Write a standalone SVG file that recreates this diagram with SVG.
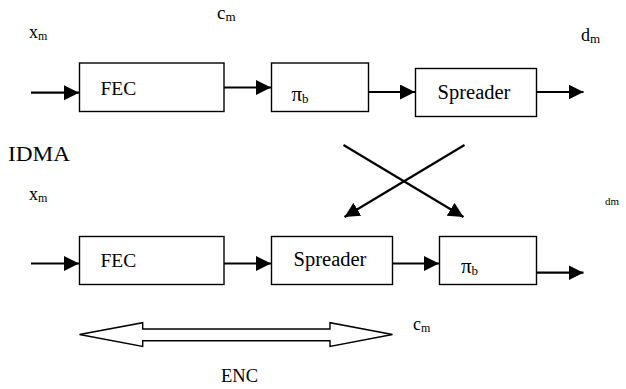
<svg xmlns="http://www.w3.org/2000/svg" width="626" height="389" viewBox="0 0 626 389">
<style>
.box{fill:#fff;stroke:#000;stroke-width:1.4}
.c{stroke:#000;stroke-width:2.2;fill:none;marker-end:url(#ah)}
text{font-family:'Liberation Serif','Times New Roman',serif;fill:#000}
</style>
<defs>
<marker id="ah" markerUnits="userSpaceOnUse" markerWidth="16" markerHeight="16" refX="15" refY="7.5" orient="auto">
<path d="M0,0 L15,7.5 L0,15 Z" fill="#000"/>
</marker>
</defs>
<rect width="626" height="389" fill="#fff"/>

<g id="labels">
<text x="8" y="161" font-size="21" textLength="62" lengthAdjust="spacingAndGlyphs">IDMA</text>
<text x="29" y="38" font-size="18">x<tspan font-size="12" dy="2">m</tspan></text>
<text x="217" y="19" font-size="19">c<tspan font-size="13" dy="2">m</tspan></text>
<text x="581" y="41" font-size="18">d<tspan font-size="13" dy="2">m</tspan></text>
<text x="29" y="200" font-size="18">x<tspan font-size="12" dy="2">m</tspan></text>
<text x="605" y="205" font-size="11">dm</text>
<text x="413" y="330" font-size="18">c<tspan font-size="12" dy="2">m</tspan></text>
<text x="221" y="381.5" font-size="18.5">ENC</text>
</g>

<g id="fec1">
<rect class="box" x="79.5" y="63" width="144.5" height="48.5"/>
<text x="100.5" y="94.5" font-size="19.5">FEC</text>
</g>
<g id="pi1">
<rect class="box" x="271.5" y="63" width="97" height="48.5"/>
<text x="291.5" y="100.5" font-size="21">π<tspan font-size="13" dy="2">b</tspan></text>
</g>
<g id="spreader1">
<rect class="box" x="415.5" y="68.5" width="121" height="48"/>
<text x="474" y="98.5" font-size="20.5" text-anchor="middle">Spreader</text>
</g>

<g id="fec2">
<rect class="box" x="79.5" y="236.5" width="144.5" height="48"/>
<text x="100.5" y="266.5" font-size="19.5">FEC</text>
</g>
<g id="spreader2">
<rect class="box" x="271.5" y="236.5" width="121" height="48"/>
<text x="330" y="266" font-size="20.5" text-anchor="middle">Spreader</text>
</g>
<g id="pi2">
<rect class="box" x="439.5" y="236.5" width="97" height="48"/>
<text x="461" y="272.5" font-size="21">π<tspan font-size="13" dy="2">b</tspan></text>
</g>

<g id="connectors">
<line class="c" x1="31" y1="92.7" x2="79" y2="92.7"/>
<line class="c" x1="224" y1="87.5" x2="271" y2="87.5"/>
<line class="c" x1="368.5" y1="92" x2="415" y2="92"/>
<line class="c" x1="536.5" y1="92" x2="583.5" y2="92"/>
<line class="c" x1="343.5" y1="145" x2="463.5" y2="217"/>
<line class="c" x1="464.5" y1="145" x2="344.5" y2="217"/>
<line class="c" x1="31" y1="263.5" x2="79" y2="263.5"/>
<line class="c" x1="224" y1="263.5" x2="271" y2="263.5"/>
<line class="c" x1="392.5" y1="263.5" x2="439" y2="263.5"/>
<line class="c" x1="536.5" y1="272.7" x2="583.5" y2="272.7"/>
<polygon id="enc-arrow" points="79.5,334.5 142.7,322.7 142.7,329 330,329 330,322.7 392.5,334.5 330,346.5 330,340.7 142.7,340.7 142.7,346.5" fill="#fff" stroke="#000" stroke-width="1.4"/>
</g>
</svg>
